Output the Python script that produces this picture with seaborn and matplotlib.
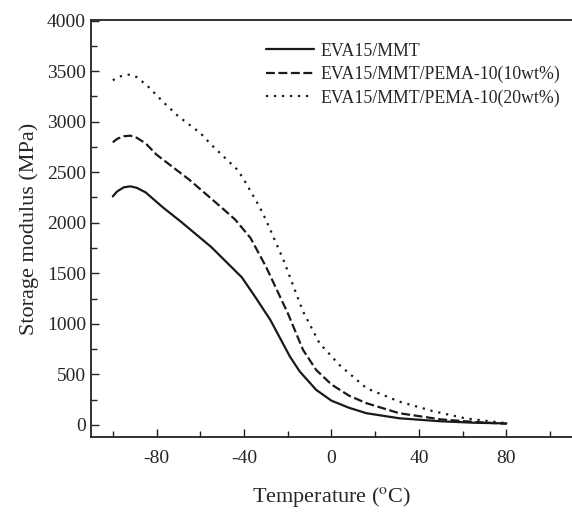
import numpy as np
import pandas as pd
import seaborn as sns
import matplotlib
matplotlib.use('Agg')
import matplotlib.pyplot as plt
from matplotlib.ticker import MultipleLocator

# storage modulus curves
temp_mmt = [-100, -98, -95, -92, -89, -85, -77, -69, -55, -41, -35, -28, -19, -14.5, -7, 0, 8, 16, 31, 50, 65, 80]
mod_mmt = [2260, 2310, 2350, 2360, 2345, 2300, 2150, 2013, 1760, 1460, 1270, 1040, 676, 528, 347, 240, 170, 116, 66, 36, 22, 15]

temp_10 = [-100, -98, -95, -92, -89, -85, -80, -65, -50, -44, -37, -30, -20, -13, -7, 0, 8, 16, 31, 50, 65, 80]
mod_10 = [2795, 2830, 2855, 2861, 2840, 2785, 2673, 2425, 2145, 2030, 1848, 1567, 1106, 742, 544, 400, 290, 215, 116, 55, 30, 12]

temp_20 = [-100, -98, -95, -92, -89, -84, -77, -70, -60, -55, -43, -40, -33, -30, -22, -13, -5.5, 3.6, 16, 31, 46, 61, 80]
mod_20 = [3409, 3435, 3460, 3465, 3440, 3350, 3195, 3052, 2888, 2772, 2524, 2425, 2161, 2030, 1634, 1122, 809, 594, 363, 231, 139, 66, 17]

labels = ['EVA15/MMT', 'EVA15/MMT/PEMA-10(10wt%)', 'EVA15/MMT/PEMA-10(20wt%)']

df = pd.concat([
    pd.DataFrame({'T': temp_mmt, 'E': mod_mmt, 'sample': labels[0]}),
    pd.DataFrame({'T': temp_10, 'E': mod_10, 'sample': labels[1]}),
    pd.DataFrame({'T': temp_20, 'E': mod_20, 'sample': labels[2]}),
])

sns.set_style('ticks')
plt.rcParams['font.family'] = ['Liberation Serif', 'DejaVu Serif']
plt.rcParams['mathtext.fontset'] = 'stix'
plt.rcParams['axes.unicode_minus'] = False

fig = plt.figure(figsize=(5.72, 5.13), dpi=100)
ax = fig.add_axes([0.159, 0.148, 0.841, 0.813])

sns.lineplot(data=df, x='T', y='E', hue='sample', style='sample',
             palette=['#1a1a1a'] * 3,
             dashes={labels[0]: '', labels[1]: (4, 1.6), labels[2]: (1, 2.6)},
             linewidth=1.6, ax=ax, sort=False)

ax.set_xlim(-110, 110)
ax.set_ylim(-120, 4005)
ax.xaxis.set_major_locator(MultipleLocator(40))
ax.xaxis.set_minor_locator(MultipleLocator(20))
ax.yaxis.set_major_locator(MultipleLocator(500))
ax.yaxis.set_minor_locator(MultipleLocator(250))
ax.tick_params(which='both', direction='in', labelsize=14, color='#222222')
ax.tick_params(which='major', length=6, width=1)
ax.tick_params(which='minor', length=4, width=1)
ax.tick_params(axis='x', pad=9)
ax.spines['right'].set_visible(False)
for s in ['left', 'bottom', 'top']:
    ax.spines[s].set_linewidth(1.3)
    ax.spines[s].set_color('#222222')

ax.set_xlabel('Temperature ($^{\\mathrm{o}}$C)', fontsize=16, labelpad=13)
ax.set_ylabel('Storage modulus (MPa)', fontsize=16, labelpad=6)

leg = ax.legend(loc='upper left', bbox_to_anchor=(0.437, 0.948),
                bbox_transform=fig.transFigure, frameon=False, fontsize=12.8,
                handlelength=2.7, handletextpad=0.35, labelspacing=0.35)
for line in leg.get_lines():
    line.set_linewidth(1.6)

fig.savefig('out.png', dpi=100)
